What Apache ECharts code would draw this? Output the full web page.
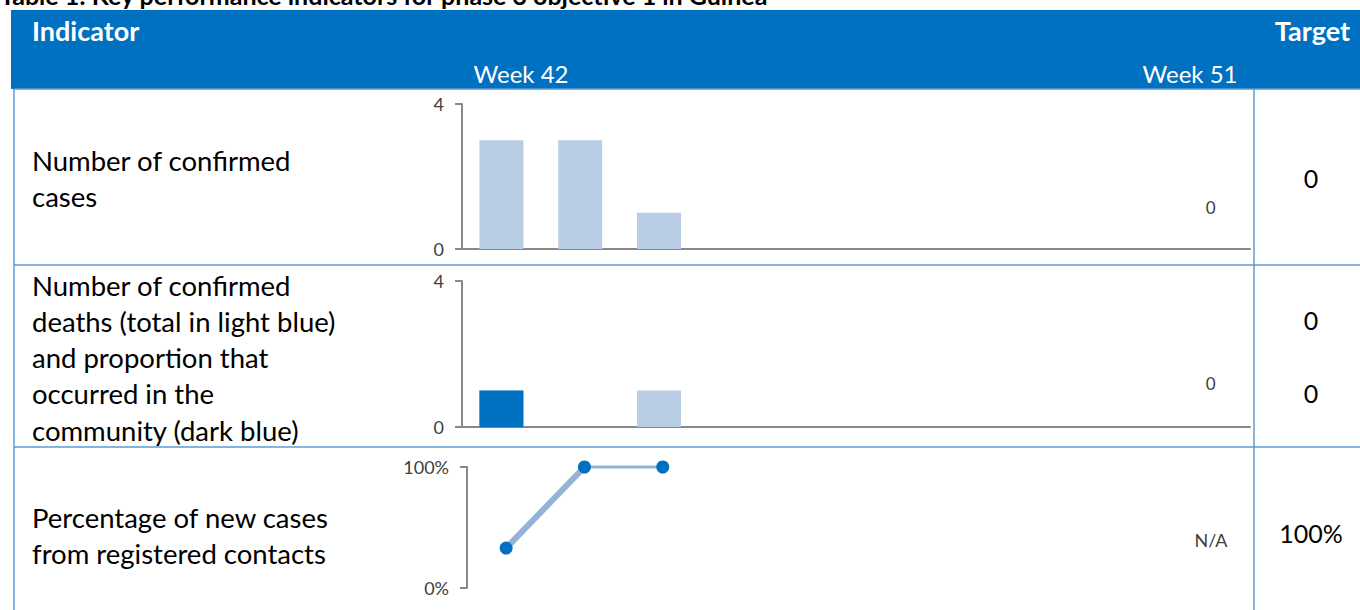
<!DOCTYPE html>
<html>
<head>
<meta charset="utf-8">
<script src="https://cdn.jsdelivr.net/npm/echarts@6/dist/echarts.min.js"></script>
<style>
  html, body { margin: 0; padding: 0; background: #fff; }
  #chart { width: 1360px; height: 610px; }
</style>
</head>
<body>
<div id="chart"></div>
<script>
// ---- data ----
const weeks = ['W42', 'W43', 'W44', 'W45', 'W46', 'W47', 'W48', 'W49', 'W50', 'W51'];
const confirmedCases = [3, 3, 1, null, null, null, null, null, null, 0];
const deathsTotal = [1, null, 1, null, null, null, null, null, null, 0];
const deathsCommunity = [1, null, null, null, null, null, null, null, null, null];
const pctFromContacts = [33, 100, 100, null, null, null, null, null, null, null];
const countTicks = [0, 4];
const pctTicks = [0, 100];
const title = 'Table 1: Key performance indicators for phase 3 objective 1 in Guinea';
const headerLabels = { indicator: 'Indicator', target: 'Target', first: 'Week 42', last: 'Week 51' };
const rowTexts = [
  ['Number of confirmed', 'cases'],
  ['Number of confirmed', 'deaths (total in light blue)', 'and proportion that', 'occurred in the', 'community (dark blue)'],
  ['Percentage of new cases', 'from registered contacts']
];
const targets = [['0'], ['0', '0'], ['100%']];
const lastWeekNote = ['0', '0', 'N/A'];

// ---- style ----
const FONT = 'Lato, "Open Sans", sans-serif';
const HEADER_BLUE = '#0070C0';
const BORDER = '#5B9BD5';
const LIGHT = '#B9CDE5';
const AXIS = '#888888';

const chart = echarts.init(document.getElementById('chart'), null, { renderer: 'svg' });

function yAxisCfg(grid, ticks, pct) {
  return {
    type: 'value', gridIndex: grid, min: ticks[0], max: ticks[ticks.length - 1],
    interval: ticks[ticks.length - 1] - ticks[0],
    splitLine: { show: false },
    axisLine: { show: true, lineStyle: { color: AXIS, width: 2 } },
    axisTick: { show: true, length: 7, lineStyle: { color: AXIS, width: 2 } },
    axisLabel: { color: '#404040', fontSize: 18, fontFamily: FONT, margin: 18,
      formatter: pct ? '{value}%' : '{value}' }
  };
}
function xAxisCfg(grid, showLine) {
  return {
    type: 'category', gridIndex: grid, data: weeks,
    axisLine: { show: showLine, lineStyle: { color: AXIS, width: 2 } },
    axisTick: { show: false }, axisLabel: { show: false }
  };
}
const noteLabel = (txt, off) => ({
  show: true, position: 'top', offset: [0, off], formatter: txt,
  color: '#404040', fontSize: 17, fontFamily: FONT
});

const graphics = [];
// title (cut off at top, as in the source)
graphics.push({ type: 'text', x: 0, y: -5, style: { text: title, font: 'bold 25px ' + FONT, fill: '#000', textVerticalAlign: 'middle' } });
// header band
graphics.push({ type: 'rect', shape: { x: 11, y: 10, width: 1349, height: 79 }, style: { fill: HEADER_BLUE } });
graphics.push({ type: 'text', x: 32, y: 30, style: { text: headerLabels.indicator, font: 'bold 27px ' + FONT, fill: '#fff', textVerticalAlign: 'middle' } });
graphics.push({ type: 'text', x: 1350, y: 30, style: { text: headerLabels.target, font: 'bold 27px ' + FONT, fill: '#fff', textAlign: 'right', textVerticalAlign: 'middle' } });
graphics.push({ type: 'text', x: 521, y: 73, style: { text: headerLabels.first, font: '24px ' + FONT, fill: '#fff', textAlign: 'center', textVerticalAlign: 'middle' } });
graphics.push({ type: 'text', x: 1190, y: 73, style: { text: headerLabels.last, font: '24px ' + FONT, fill: '#fff', textAlign: 'center', textVerticalAlign: 'middle' } });
// borders
const lineStyle = { stroke: BORDER, lineWidth: 1.5 };
graphics.push({ type: 'line', shape: { x1: 14, y1: 89, x2: 1360, y2: 89 }, style: lineStyle });
graphics.push({ type: 'line', shape: { x1: 14, y1: 265, x2: 1360, y2: 265 }, style: lineStyle });
graphics.push({ type: 'line', shape: { x1: 14, y1: 447, x2: 1360, y2: 447 }, style: lineStyle });
graphics.push({ type: 'line', shape: { x1: 14, y1: 89, x2: 14, y2: 610 }, style: lineStyle });
graphics.push({ type: 'line', shape: { x1: 1254, y1: 89, x2: 1254, y2: 610 }, style: lineStyle });
// row texts
const rowStartY = [160, 285, 517];
rowTexts.forEach((lines, r) => {
  lines.forEach((t, i) => {
    graphics.push({ type: 'text', x: 32, y: rowStartY[r] + i * 36.3,
      style: { text: t, font: '27.5px ' + FONT, fill: '#000', textVerticalAlign: 'middle' } });
  });
});
// targets
const targetY = [[178], [320, 393], [533]];
targets.forEach((vals, r) => {
  vals.forEach((t, i) => {
    graphics.push({ type: 'text', x: 1311, y: targetY[r][i],
      style: { text: t, font: '25px ' + FONT, fill: '#000', textAlign: 'center', textVerticalAlign: 'middle' } });
  });
});
// N/A note for the percentage row
graphics.push({ type: 'text', x: 1211, y: 540, style: { text: lastWeekNote[2], font: '18px ' + FONT, fill: '#404040', textAlign: 'center', textVerticalAlign: 'middle' } });

const seg1 = pctFromContacts.map((v, i) => (i <= 1 ? v : null));
const seg2 = pctFromContacts.map((v, i) => (i >= 1 && i <= 2 ? v : null));

chart.setOption({
  animation: false,
  grid: [
    { left: 462, top: 104, width: 788, height: 145 },
    { left: 462, top: 281, width: 788, height: 146 },
    { left: 467, top: 467, width: 783, height: 121 }
  ],
  xAxis: [xAxisCfg(0, true), xAxisCfg(1, true), xAxisCfg(2, false)],
  yAxis: [yAxisCfg(0, countTicks, false), yAxisCfg(1, countTicks, false), yAxisCfg(2, pctTicks, true)],
  graphic: graphics,
  series: [
    { type: 'bar', xAxisIndex: 0, yAxisIndex: 0, barWidth: 44, itemStyle: { color: LIGHT },
      data: confirmedCases.map((v, i) => (i === weeks.length - 1 ? { value: v, label: noteLabel(lastWeekNote[0], -28) } : v)) },
    { type: 'bar', xAxisIndex: 1, yAxisIndex: 1, barWidth: 44, barGap: '-100%', itemStyle: { color: LIGHT },
      data: deathsTotal.map((v, i) => (i === weeks.length - 1 ? { value: v, label: noteLabel(lastWeekNote[1], -30) } : v)) },
    { type: 'bar', xAxisIndex: 1, yAxisIndex: 1, barWidth: 44, barGap: '-100%', itemStyle: { color: HEADER_BLUE },
      data: deathsCommunity },
    { type: 'line', xAxisIndex: 2, yAxisIndex: 2, data: seg1, showSymbol: false, clip: false,
      lineStyle: { color: '#95B3D7', width: 6 } },
    { type: 'line', xAxisIndex: 2, yAxisIndex: 2, data: seg2, showSymbol: false, clip: false,
      lineStyle: { color: '#95B3D7', width: 3 } },
    { type: 'scatter', xAxisIndex: 2, yAxisIndex: 2, data: pctFromContacts, symbolSize: 13, clip: false, z: 5,
      itemStyle: { color: HEADER_BLUE, opacity: 1 } }
  ]
});
</script>
</body>
</html>
